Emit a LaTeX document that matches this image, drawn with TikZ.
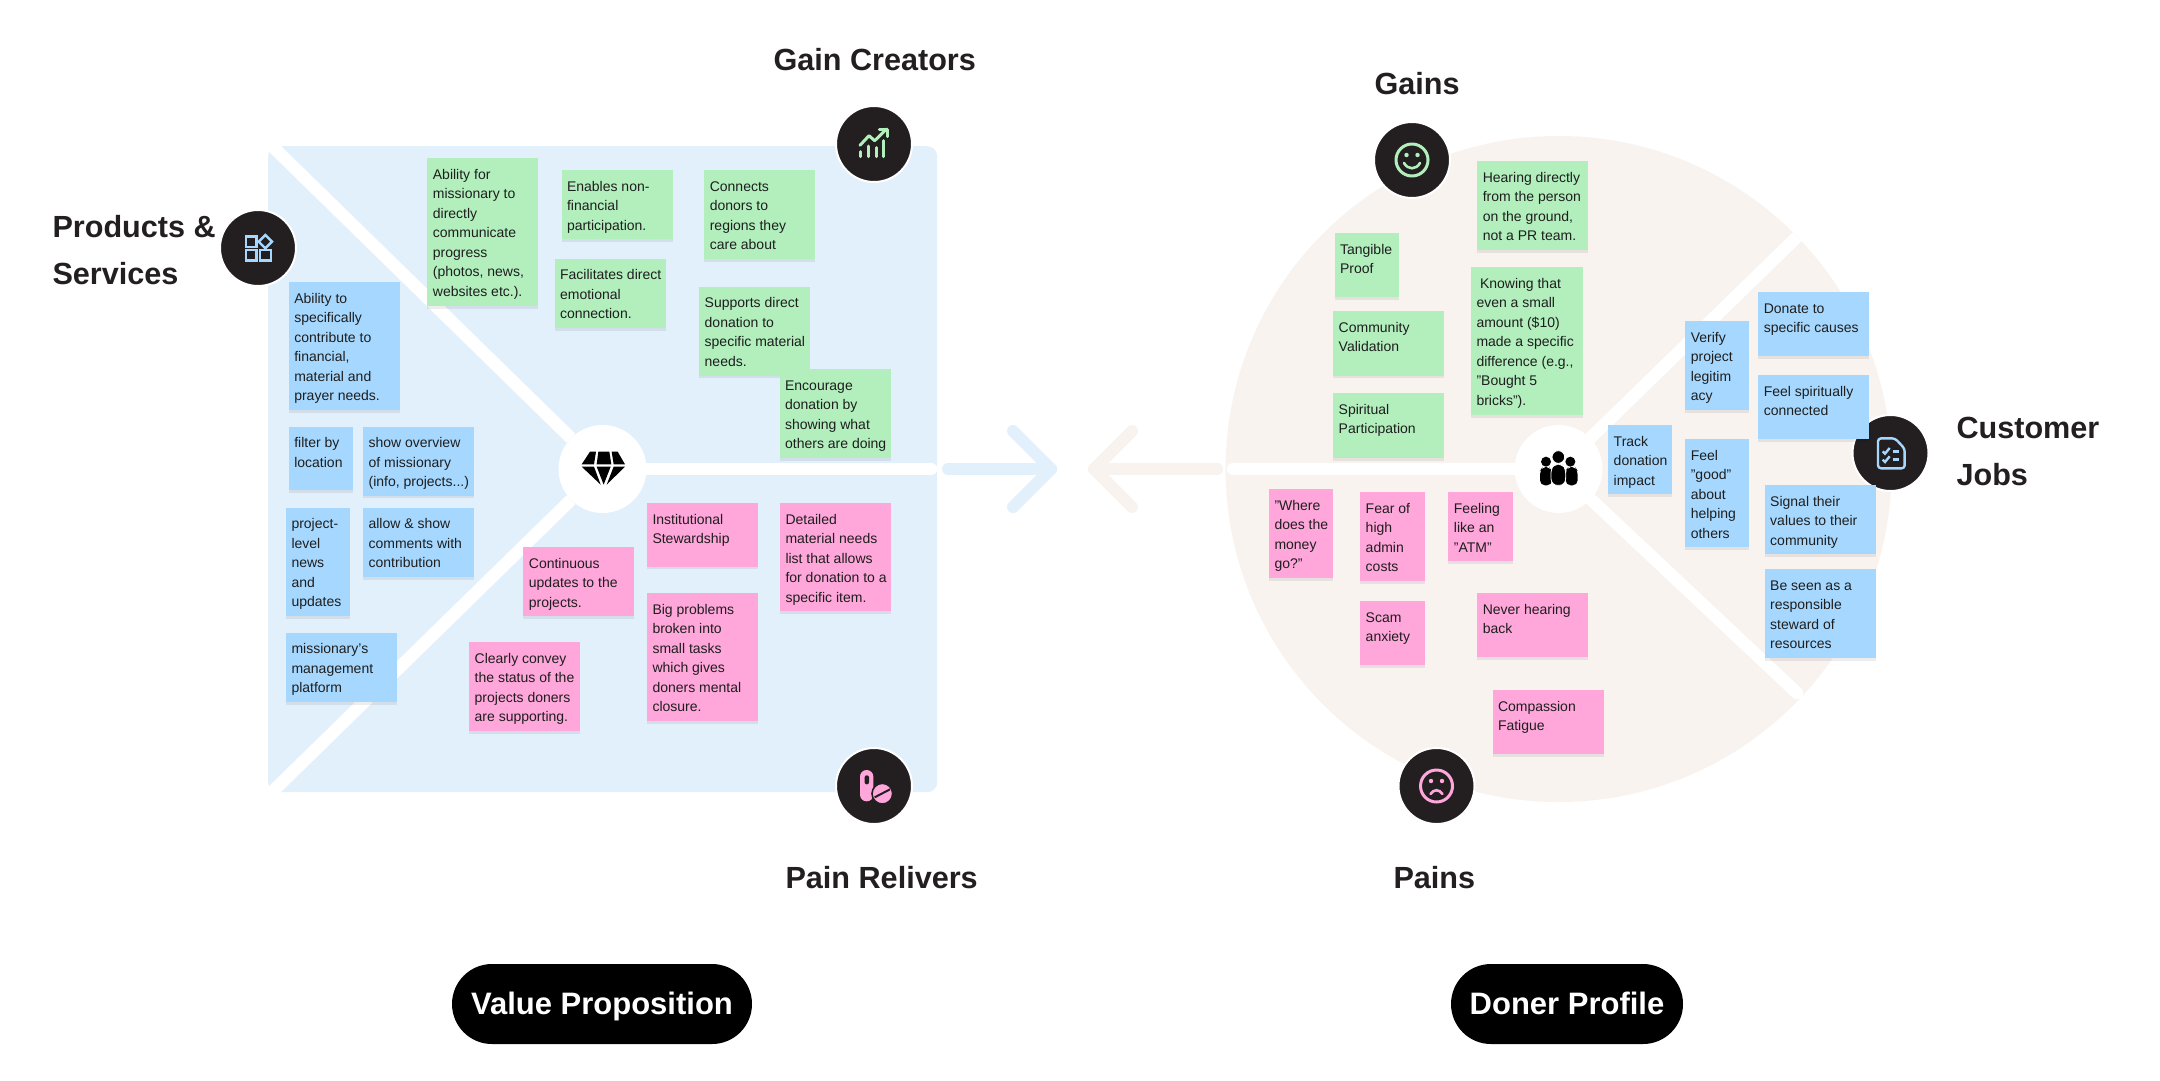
\documentclass[tikz,border=0pt]{standalone}
\usepackage{fontspec}
\setmainfont{Liberation Sans}
\usetikzlibrary{shadows,calc}
\definecolor{panelblue}{HTML}{E2F0FC}
\definecolor{panelsand}{HTML}{F8F3EF}
\definecolor{noteblue}{HTML}{A6D8FF}
\definecolor{notegreen}{HTML}{B2EFBD}
\definecolor{notepink}{HTML}{FFA6DB}
\definecolor{inkdark}{HTML}{231F20}
\definecolor{notetext}{HTML}{1E1E1E}
\tikzset{
  x=1pt,y=-1pt,
  notestyle/.style={anchor=north west,inner sep=0pt,outer sep=0pt,text=notetext,
    drop shadow={shadow xshift=0pt,shadow yshift=-2.5pt,fill=black,opacity=.07}},
  divider/.style={draw=white,line width=12.5pt,line cap=round},
  hubstyle/.style={circle,fill=white,minimum size=88pt,inner sep=0pt},
  iconstyle/.style={circle,fill=inkdark,draw=white,line width=2pt,minimum size=76pt,inner sep=0pt},
  headstyle/.style={anchor=base west,text=inkdark,align=left,font=\fontsize{30.6}{47}\selectfont\bfseries},
  pillstyle/.style={fill=black,text=white,rounded corners=40pt,minimum height=80pt,inner sep=0pt,
    text height=26pt,text depth=5pt,font=\fontsize{31}{38}\selectfont\bfseries},
  flowarrow/.style={line width=12pt,line cap=round,line join=round},
  glyphblue/.style={draw=noteblue,line width=2.4pt},
  glyphgreen/.style={draw=notegreen,line width=3pt,line cap=round,line join=round},
  glyphpink/.style={draw=notepink,line width=3pt,line cap=round},
}
\newcommand\notebox[7]{%
  \node[notestyle,fill=#6] (#1) at (#2,#3)
    {\kern5.5pt\parbox[c][#5pt][t]{\dimexpr#4pt-5.5pt\relax}{\fontsize{14}{19.5}\selectfont\raggedright\rule{0pt}{21pt}#7}};}
\begin{document}
\begin{tikzpicture}
\useasboundingbox (0,0) rectangle (2160,1080);
\fill[white] (0,0) rectangle (2160,1080);

% ---------- value proposition panel
\node[fill=panelblue,rounded corners=10pt,minimum width=669pt,minimum height=646pt,anchor=north west,inner sep=0pt] (vppanel) at (268,146) {};
\node[hubstyle] (vphub) at (602.5,469) {};
\coordinate (vpnw) at (269,143);
\coordinate (vpsw) at (269,795);
\coordinate (vpeast) at (931,469);
\begin{scope}
\clip (262,146) rectangle (945,792);
\draw[divider,line cap=butt] (vphub) -- (vpnw);
\draw[divider,line cap=butt] (vphub) -- (vpsw);
\end{scope}
\draw[divider] (vphub) -- (vpeast);

% ---------- diamond glyph
\begin{scope}[shift={(570,436)},x=.3333pt,y=-.3333pt]
\fill[black] (35,85) -- (60,47) -- (78,47) -- (72,85) -- cycle;
\fill[black] (85,47) -- (118,47) -- (124,85) -- (80,85) -- cycle;
\fill[black] (125,47) -- (143,47) -- (165,85) -- (131,85) -- cycle;
\fill[black] (35,92) -- (72,92) -- (92,146) -- cycle;
\fill[black] (80,92) -- (122,92) -- (101,146) -- cycle;
\fill[black] (131,92) -- (165,92) -- (110,146) -- cycle;
\end{scope}

% ---------- donor profile disc
\node[circle,fill=panelsand,minimum size=666pt,inner sep=0pt] (dpdisc) at (1558.6,469) {};
\node[hubstyle] (dphub) at (1558.6,469) {};
\coordinate (dpwest) at (1233,469);
\coordinate (dpne) at (1802,232);
\coordinate (dpse) at (1797,693);
\draw[divider] (dphub) -- (dpwest);
\draw[divider] (dphub) -- (dpse);
\begin{scope}
\clip (1558.6,469) circle (333pt);
\draw[divider] (dphub) -- (dpne);
\end{scope}

% ---------- people glyph
\begin{scope}[shift={(1526,436)},x=.3333pt,y=-.3333pt]
\fill[black] (60,77) circle (15);
\fill[black,rounded corners=5pt] (42,148) -- (42,104) -- (50,93) -- (70,93) -- (78,104) -- (78,148) -- cycle;
\fill[black] (133,77) circle (15);
\fill[black,rounded corners=5pt] (119,148) -- (119,104) -- (127,93) -- (147,93) -- (155,104) -- (155,148) -- cycle;
\fill[black,draw=white,line width=.8pt] (97,63) circle (19);
\fill[black,draw=white,line width=.8pt,rounded corners=6pt] (76,148) -- (74,98) -- (84,84) -- (110,84) -- (120,98) -- (118,148) -- cycle;
\end{scope}

% ---------- arrows between the panels
\coordinate (arAtail) at (948,469);
\coordinate (arAtip) at (1051,469);
\coordinate (arAup) at (1013,431);
\coordinate (arAdn) at (1013,507);
\draw[flowarrow,panelblue] (arAtail) -- (arAtip);
\draw[flowarrow,panelblue] (arAup) -- (arAtip) -- (arAdn);
\coordinate (arBtail) at (1217,469);
\coordinate (arBtip) at (1094,469);
\coordinate (arBup) at (1132,431);
\coordinate (arBdn) at (1132,507);
\draw[flowarrow,panelsand] (arBtail) -- (arBtip);
\draw[flowarrow,panelsand] (arBup) -- (arBtip) -- (arBdn);

% ---------- icon discs
\node[iconstyle] (icprod) at (258,248) {};
\node[iconstyle] (icgain) at (874,144) {};
\node[iconstyle] (icpain) at (874,786) {};
\node[iconstyle] (icsmile) at (1412,160) {};
\node[iconstyle] (icjobs) at (1890.5,453) {};
\node[iconstyle] (icsad) at (1436.5,786) {};

% products glyph
\begin{scope}[shift={(220,208)},x=.3333pt,y=-.3333pt]
\draw[glyphblue] (78,85) rectangle (110,117);
\draw[glyphblue] (78,126) rectangle (110,158);
\draw[glyphblue] (120,126) rectangle (153,158);
\draw[glyphblue] (136,81) -- (156,101) -- (136,121) -- (116,101) -- cycle;
\end{scope}
% growth glyph
\begin{scope}[shift={(834,104)},x=.3333pt,y=-.3333pt]
\draw[glyphgreen] (78,124) -- (105,95) -- (122,110) -- (158,75);
\draw[glyphgreen] (136,76) -- (159,76) -- (159,98);
\draw[glyphgreen] (80,143) -- (80,158);
\draw[glyphgreen] (103,126) -- (103,158);
\draw[glyphgreen] (126,131) -- (126,158);
\draw[glyphgreen] (149,110) -- (149,158);
\end{scope}
% pills glyph
\begin{scope}[shift={(834,746)},x=.3333pt,y=-.3333pt]
\fill[notepink,rounded corners=6.6pt] (78,72) rectangle (118,166);
\fill[inkdark,rounded corners=2pt] (92,88) rectangle (105,115);
\fill[notepink,draw=inkdark,line width=1.6pt] (145,143) circle (31);
\draw[inkdark,line width=2pt] (122,154) -- (168,130);
\end{scope}
% smile glyph
\draw[glyphgreen,line width=3pt] (icsmile.center) circle (16pt);
\fill[notegreen] ($(icsmile.center)+(-5.5,-5)$) circle (2.2pt);
\fill[notegreen] ($(icsmile.center)+(5.5,-5)$) circle (2.2pt);
\draw[glyphgreen,line width=2.6pt] ($(icsmile.center)+(-8,3)$) .. controls ($(icsmile.center)+(-4,10)$) and ($(icsmile.center)+(4,10)$) .. ($(icsmile.center)+(8,3)$);
% sad glyph
\draw[glyphpink] (icsad.center) circle (16pt);
\fill[notepink] ($(icsad.center)+(-5.5,-5)$) circle (2.2pt);
\fill[notepink] ($(icsad.center)+(5.5,-5)$) circle (2.2pt);
\draw[glyphpink,line width=2.6pt] ($(icsad.center)+(-6,8)$) .. controls ($(icsad.center)+(-3,3)$) and ($(icsad.center)+(3,3)$) .. ($(icsad.center)+(6,8)$);
% document glyph
\begin{scope}[shift={(1850,412)},x=.3333pt,y=-.3333pt]
\draw[glyphblue,line join=round,rounded corners=3pt] (84,79) -- (135,79) -- (164,110) -- (164,169) -- (84,169) -- cycle;
\draw[glyphblue] (98,118) -- (105,125) -- (119,108);
\draw[glyphblue] (98,143) -- (105,150) -- (119,133);
\draw[glyphblue] (128,118) -- (148,118);
\draw[glyphblue] (128,142) -- (148,142);
\end{scope}

% ---------- value proposition notes
\notebox{nA}{427.4}{158}{111}{148}{notegreen}{Ability for\\missionary to\\directly\\communicate\\progress\\(photos, news,\\websites etc.).}
\notebox{nB}{561.5}{170}{111}{69}{notegreen}{Enables non-\\financial\\participation.}
\notebox{nC}{704.3}{170}{111}{89}{notegreen}{Connects\\donors to\\regions they\\care about}
\notebox{nD}{554.6}{258.5}{111}{69.5}{notegreen}{Facilitates direct\\emotional\\connection.}
\notebox{nE}{699.2}{286.7}{111}{89}{notegreen}{Supports direct\\donation to\\specific material\\needs.}
\notebox{nF}{779.6}{369}{111}{89}{notegreen}{Encourage\\donation by\\showing what\\others are doing}
\notebox{nG}{288.8}{282}{111}{128}{noteblue}{Ability to\\specifically\\contribute to\\financial,\\material and\\prayer needs.}
\notebox{nH}{288.8}{426.7}{64}{63.5}{noteblue}{filter by\\location}
\notebox{nI}{363.1}{426.7}{111}{69}{noteblue}{show overview\\of missionary\\(info, projects...)}
\notebox{nJ}{286}{507.7}{64}{108.5}{noteblue}{project-\\level\\news\\and\\updates}
\notebox{nK}{363.1}{507.7}{111}{69.3}{noteblue}{allow \& show\\comments with\\contribution}
\notebox{nL}{286}{632.7}{111}{69.3}{noteblue}{missionary's\\management\\platform}
\notebox{nM}{647}{503}{110.7}{63.7}{notepink}{Institutional\\Stewardship}
\notebox{nN}{780}{503}{111}{108}{notepink}{Detailed\\material needs\\list that allows\\for donation to a\\specific item.}
\notebox{nO}{523.4}{547}{110.7}{69}{notepink}{Continuous\\updates to the\\projects.}
\notebox{nP}{469.2}{642}{110.8}{89}{notepink}{Clearly convey\\the status of the\\projects doners\\are supporting.}
\notebox{nQ}{647}{593}{110.7}{128}{notepink}{Big problems\\broken into\\small tasks\\which gives\\doners mental\\closure.}

% ---------- donor profile notes
\notebox{rA}{1477.3}{161}{111}{89.3}{notegreen}{Hearing directly\\from the person\\on the ground,\\not a PR team.}
\notebox{rB}{1334.5}{233}{64}{64}{notegreen}{Tangible\\Proof}
\notebox{rC}{1333.2}{311}{111}{64.7}{notegreen}{Community\\Validation}
\notebox{rD}{1333.2}{393.3}{111}{65}{notegreen}{Spiritual\\Participation}
\notebox{rE}{1471}{267}{111.5}{148}{notegreen}{\kern3.5pt Knowing that\\even a small\\amount (\$10)\\made a specific\\difference (e.g.,\\"Bought 5\\bricks").}
\notebox{rF}{1608.2}{425}{64}{69}{noteblue}{Track\\donation\\impact}
\notebox{rG}{1685.3}{321}{64}{89}{noteblue}{Verify\\project\\legitim\\acy}
\notebox{rH}{1685.3}{439}{64}{108}{noteblue}{Feel\\"good"\\about\\helping\\others}
\notebox{rI}{1758.3}{292}{110.7}{64}{noteblue}{Donate to\\specific causes}
\notebox{rJ}{1758.3}{375}{111}{64.3}{noteblue}{Feel spiritually\\connected}
\notebox{rK}{1764.7}{485}{111}{69.3}{noteblue}{Signal their\\values to their\\community}
\notebox{rL}{1764.7}{569}{111}{89}{noteblue}{Be seen as a\\responsible\\steward of\\resources}
\notebox{rM}{1269}{489.3}{64}{89}{notepink}{"Where\\does the\\money\\go?"}
\notebox{rN}{1360.2}{492}{64.3}{89}{notepink}{Fear of\\high\\admin\\costs}
\notebox{rO}{1448.4}{492}{64.3}{69.3}{notepink}{Feeling\\like an\\"ATM"}
\notebox{rP}{1360.2}{601}{64.3}{64}{notepink}{Scam\\anxiety}
\notebox{rQ}{1477.3}{593.3}{111}{64}{notepink}{Never hearing\\back}
\notebox{rR}{1492.5}{690}{111}{64}{notepink}{Compassion\\Fatigue}

% ---------- headings
\node[headstyle] (hGainCreators) at (770,70) {Gain Creators};
\node[headstyle] (hProducts) at (49,284) {Products \&\\Services};
\node[headstyle] (hPainRelievers) at (782,888) {Pain Relivers};
\node[headstyle] (hGains) at (1371,94) {Gains};
\node[headstyle] (hJobs) at (1953,485) {Customer\\Jobs};
\node[headstyle] (hPains) at (1390,888) {Pains};

% ---------- section pills
\node[pillstyle,minimum width=300pt] (pVP) at (602,1004) {Value Proposition};
\node[pillstyle,minimum width=232pt] (pDP) at (1567,1004) {Doner Profile};
\end{tikzpicture}
\end{document}
